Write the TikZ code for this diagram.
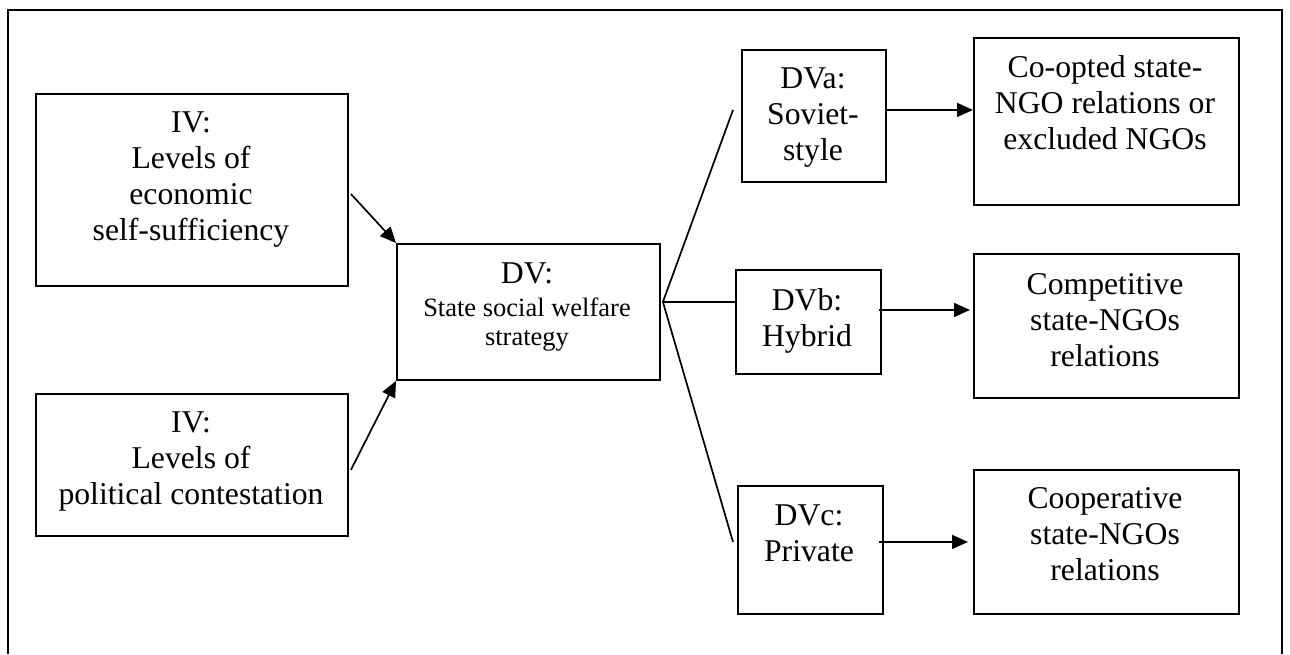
\documentclass[tikz,border=0pt]{standalone}
\usepackage{fontspec}
\setmainfont{Liberation Serif}
\usetikzlibrary{arrows.meta,positioning,calc}

\begin{document}
\begin{tikzpicture}[x=1pt,y=-1pt,>={Triangle[length=16pt,width=14pt]},
  box/.style={draw,line width=1.9pt,anchor=north west,inner sep=0pt},
  txt/.style={align=center,anchor=base,inner sep=0pt,font=\fontsize{31.7}{36}\selectfont},
  small/.style={align=center,anchor=base,inner sep=0pt,font=\fontsize{26.5}{29}\selectfont},
  conn/.style={line width=1.7pt}]
\useasboundingbox (0,0) rectangle (1290,654);
\draw[line width=1.9pt] (8,654)--(8,10)--(1282,10)--(1282,654);
% boxes
\node[box,minimum width=312pt,minimum height=192pt] (iv1) at (35,93) {};
\node[box,minimum width=312pt,minimum height=142pt] (iv2) at (35,393) {};
\node[box,minimum width=263pt,minimum height=136pt] (dv) at (396,243) {};
\node[box,minimum width=144pt,minimum height=132pt] (dva) at (741,49) {};
\node[box,minimum width=145pt,minimum height=104pt] (dvb) at (735,269) {};
\node[box,minimum width=145pt,minimum height=128pt] (dvc) at (737,485) {};
\node[box,minimum width=265pt,minimum height=167pt] (outa) at (973,37) {};
\node[box,minimum width=265pt,minimum height=144pt] (outb) at (973,253) {};
\node[box,minimum width=265pt,minimum height=144pt] (outc) at (973,469) {};
% texts (placed by the baseline of their last line)
\node[txt] (iv1t) at (191,240) {IV:\\Levels of\\economic\\self-sufficiency};
\node[txt] (iv2t) at (191,504) {IV:\\Levels of\\political contestation};
\node[txt] (dvt) at (527,283) {DV:};
\node[small] (dvs) at (527,345) {State social welfare\\strategy};
\node[txt] (dvat) at (813,160) {DVa:\\Soviet-\\style};
\node[txt] (dvbt) at (807,346) {DVb:\\Hybrid};
\node[txt] (dvct) at (809,561) {DVc:\\Private};
\node[txt] (outat) at (1105,149) {Co-opted state-\\NGO relations or\\excluded NGOs};
\node[txt] (outbt) at (1105,366) {Competitive\\state-NGOs\\relations};
\node[txt] (outct) at (1105,580) {Cooperative\\state-NGOs\\relations};
% connectors
\coordinate (split) at ($(dv.east)+(2,-10)$);
\draw[conn,->] ([xshift=2pt,yshift=-4pt]iv1.east) -- (dv.north west);
\draw[conn,->] ([xshift=2pt,yshift=-5pt]iv2.east) -- (dv.south west);
\draw[conn] (split) -- ([xshift=-8pt,yshift=6pt]dva.west);
\draw[conn] (split) -- (split -| dvb.west);
\draw[conn] (split) -- ([xshift=-4pt,yshift=8pt]dvc.west);
\draw[conn,->] ([yshift=6pt]dva.east) -- ([yshift=6pt]dva.east -| outa.west);
\draw[conn,->] ([xshift=-3pt,yshift=12pt]dvb.east) -- ([xshift=-3pt,yshift=12pt]dvb.east -| outb.west);
\draw[conn,->] ([xshift=-5pt,yshift=8pt]dvc.east) -- ([xshift=-5pt,yshift=8pt]dvc.east -| outc.west);
\end{tikzpicture}
\end{document}
